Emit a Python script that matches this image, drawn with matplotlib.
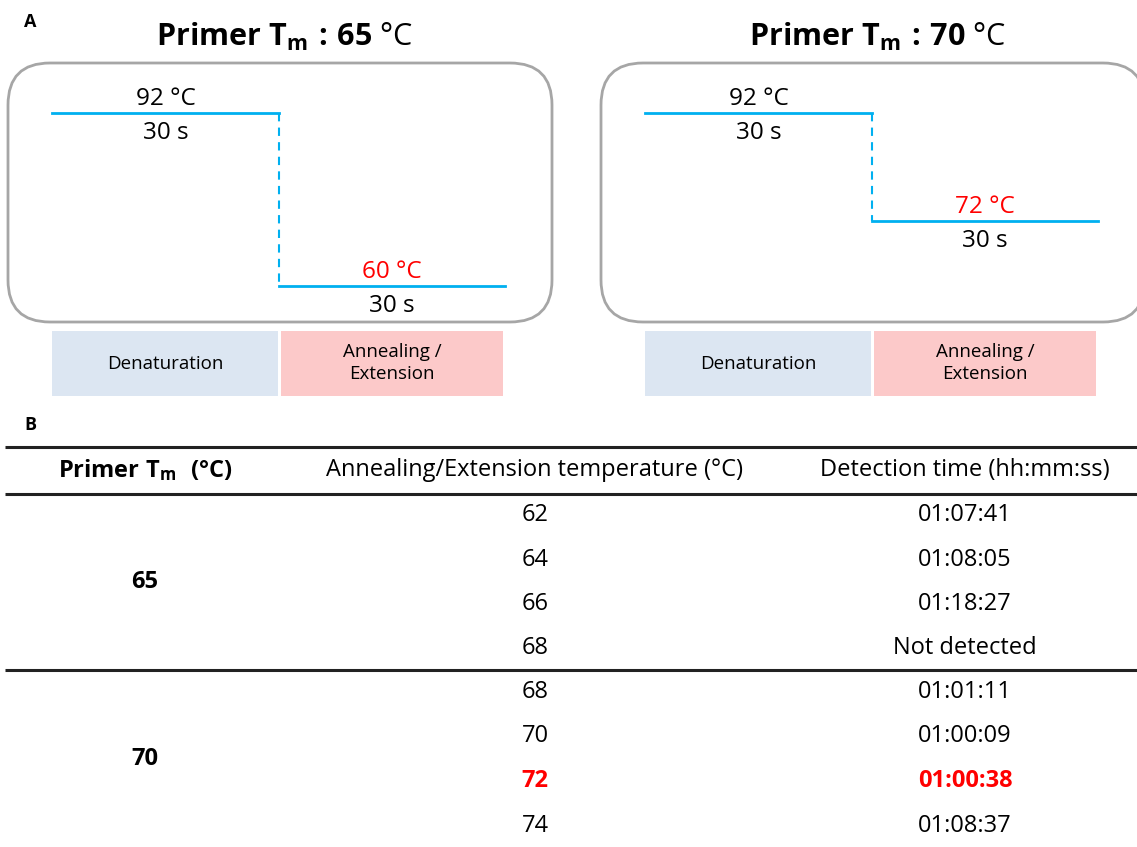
import matplotlib
matplotlib.use("Agg")
import matplotlib.pyplot as plt
from matplotlib.patches import FancyBboxPatch, Rectangle

plt.rcParams['font.family'] = ['Open Sans', 'DejaVu Sans']
plt.rcParams['mathtext.fontset'] = 'custom'
plt.rcParams['mathtext.rm'] = 'Open Sans'
plt.rcParams['mathtext.bf'] = 'Open Sans:bold'
plt.rcParams['mathtext.it'] = 'Open Sans:italic'

# datos del panel A
panel_tm = [65, 70]
denat_temp = 92
anneal_temp = [60, 72]
step_time = ["30 s", "30 s"]
phase_names = ["Denaturation", "Annealing /\nExtension"]

# datos del panel B
table_header = [r"$\mathbf{Primer\ T_m\ \ (°C)}$",
                "Annealing/Extension temperature (°C)",
                "Detection time (hh:mm:ss)"]
table_tm = [65, 70]
table_anneal = [[62, 64, 66, 68], [68, 70, 72, 74]]
table_time = [["01:07:41", "01:08:05", "01:18:27", "Not detected"],
              ["01:01:11", "01:00:09", "01:00:38", "01:08:37"]]
highlight = (70, 72)

azul = "#00b0f0"
rojo = "#ff0000"

fig = plt.figure(figsize=(11.37, 8.47), dpi=100)
ax = fig.add_axes([0, 0, 1, 1])
ax.set_xlim(0, 1137)
ax.set_ylim(847, 0)
ax.axis("off")

# temperatura -> posición vertical en píxeles
def temp_y(t):
    return 113 + (denat_temp - t) * 5.4

ax.text(24, 22, "A", fontsize=13, fontweight="bold", va="center")
ax.text(24, 425, "B", fontsize=13, fontweight="bold", va="center")

# paneles del esquema
x0s = [8, 601]
for i, tm in enumerate(panel_tm):
    x0 = x0s[i]
    ax.text(x0 + 277, 37, r"$\mathbf{Primer\ T_m\,:\,%d}$ °C" % tm,
            fontsize=22, ha="center", va="center")
    ax.add_patch(FancyBboxPatch((x0, 63), 544, 259,
                                boxstyle="round,pad=0,rounding_size=42",
                                fc="white", ec="#a6a6a6", lw=2))
    xa = x0 + 44
    xb = x0 + 271
    xc = x0 + 497
    yd = temp_y(denat_temp)
    ya = temp_y(anneal_temp[i])
    ax.plot([xa, xb], [yd, yd], color=azul, lw=2)
    ax.plot([xb, xb], [yd, ya], color=azul, lw=1.5, ls=(0, (4, 3)))
    ax.plot([xb, xc], [ya, ya], color=azul, lw=2)
    ax.text((xa + xb) / 2, yd - 14, "%d °C" % denat_temp, fontsize=17.5,
            ha="center", va="center")
    ax.text((xa + xb) / 2, yd + 20, step_time[i], fontsize=17.5,
            ha="center", va="center")
    ax.text((xb + xc) / 2, ya - 14, "%d °C" % anneal_temp[i], fontsize=17.5,
            ha="center", va="center", color=rojo)
    ax.text((xb + xc) / 2, ya + 20, step_time[i], fontsize=17.5,
            ha="center", va="center")
    # fases
    ax.add_patch(Rectangle((xa, 331), xb - xa - 1, 65, fc="#dce6f2", ec="none"))
    ax.add_patch(Rectangle((xb + 2, 331), xc - xb - 4, 65, fc="#fcc9c9", ec="none"))
    ax.text((xa + xb) / 2, 364, phase_names[0], fontsize=13.5, ha="center", va="center")
    ax.text((xb + xc) / 2, 363, phase_names[1], fontsize=13.5, ha="center",
            va="center", linespacing=1.35)

# tabla
cols = [145, 535, 965]
for y in [447, 494]:
    ax.plot([5, 1137], [y, y], color="#222222", lw=2.2, solid_capstyle="butt")
for j, h in enumerate(table_header):
    ax.text(cols[j], 470, h, fontsize=17, ha="center", va="center")

row_h = 44.5
y = 515
for g, tm in enumerate(table_tm):
    ys = []
    for a, t in zip(table_anneal[g], table_time[g]):
        hl = (tm, a) == highlight
        c = rojo if hl else "black"
        w = "bold" if hl else "normal"
        ax.text(cols[1], y, str(a), fontsize=17, ha="center", va="center",
                color=c, fontweight=w)
        ax.text(cols[2], y, t, fontsize=17, ha="center", va="center",
                color=c, fontweight=w)
        ys.append(y)
        y += row_h
    ax.text(cols[0], (ys[0] + ys[-1]) / 2, str(tm), fontsize=17,
            ha="center", va="center", fontweight="bold")
    if g == 0:
        ax.plot([5, 1137], [670, 670], color="#222222", lw=2.2, solid_capstyle="butt")
        y = 692

fig.savefig("out.png", dpi=100)
